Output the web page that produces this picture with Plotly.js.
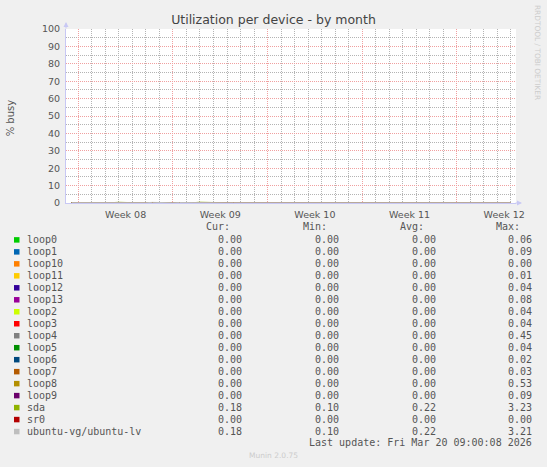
<!DOCTYPE html>
<html>
<head>
<meta charset="utf-8">
<script src="https://cdn.plot.ly/plotly-3.0.1.min.js"></script>
<style>
html,body{margin:0;padding:0;background:#f0f0f0;}
#chart{width:547px;height:467px;}
</style>
</head>
<body>
<div id="chart"></div>
<script>
// ---- data ----
const seriesNames = ["loop0","loop1","loop10","loop11","loop12","loop13","loop2","loop3","loop4","loop5","loop6","loop7","loop8","loop9","sda","sr0","ubuntu-vg/ubuntu-lv"];
const seriesColors = ["#00CC00","#0066B3","#FF8000","#FFCC00","#330099","#990099","#CCFF00","#FF0000","#808080","#008F00","#00487D","#B35A00","#B38F00","#6B006B","#8FB300","#B30000","#BEBEBE"];
const curVals = ["0.00","0.00","0.00","0.00","0.00","0.00","0.00","0.00","0.00","0.00","0.00","0.00","0.00","0.00","0.18","0.00","0.18"];
const minVals = ["0.00","0.00","0.00","0.00","0.00","0.00","0.00","0.00","0.00","0.00","0.00","0.00","0.00","0.00","0.10","0.00","0.10"];
const avgVals = ["0.00","0.00","0.00","0.00","0.00","0.00","0.00","0.00","0.00","0.00","0.00","0.00","0.00","0.00","0.22","0.00","0.22"];
const maxVals = ["0.06","0.09","0.00","0.01","0.04","0.08","0.04","0.04","0.45","0.04","0.02","0.03","0.53","0.09","3.23","0.00","3.21"];
const columnHeaders = ["Cur:","Min:","Avg:","Max:"];

const weekStarts = ["2026-02-16","2026-02-23","2026-03-02","2026-03-09","2026-03-16"];
const weekMids = ["2026-02-19 12:00","2026-02-26 12:00","2026-03-05 12:00","2026-03-12 12:00","2026-03-19 12:00"];
const weekLabels = ["Week 08","Week 09","Week 10","Week 11","Week 12"];
const xRange = ["2026-02-15 02:10","2026-03-20 09:00"];
const sampleStart = "2026-02-15 12:00";   // 12-hour samples

// values per 12-hour sample (% busy)
const loop0  = [0,0,0,0.01,0,0,0,0,0,0,0.01,0,0,0,0,0,0,0,0,0,0.01,0,0,0,0,0,0,0,0,0,0,0,0,0,0,0.01,0,0,0,0,0,0,0,0,0,0,0,0,0,0,0.01,0,0,0,0,0,0,0,0,0,0,0,0,0,0,0];
const loop1  = [0,0,0,0,0,0.01,0,0,0,0,0,0,0,0,0,0.01,0,0,0,0,0,0,0,0,0,0,0,0,0,0.01,0,0,0,0,0,0,0,0,0,0,0,0,0,0.01,0,0,0,0,0,0,0,0,0,0,0,0,0.01,0,0,0,0,0,0,0,0,0];
const loop10 = [0,0,0,0,0,0,0,0,0,0,0,0,0,0,0,0,0,0,0,0,0,0,0,0,0,0,0,0,0,0,0,0,0,0,0,0,0,0,0,0,0,0,0,0,0,0,0,0,0,0,0,0,0,0,0,0,0,0,0,0,0,0,0,0,0,0];
const loop11 = [0,0,0,0,0,0,0,0,0,0,0,0,0,0,0,0,0,0,0,0,0,0,0,0,0,0,0,0,0,0,0,0,0,0,0,0,0,0,0,0,0,0,0,0,0,0,0,0,0,0,0,0,0,0,0,0,0,0,0,0,0,0,0,0,0,0];
const loop12 = [0,0,0,0,0,0,0,0.01,0,0,0,0,0,0,0,0,0,0,0,0,0,0,0,0,0,0,0.01,0,0,0,0,0,0,0,0,0,0,0,0,0,0,0,0,0,0,0,0,0,0,0,0,0,0,0,0,0,0,0,0,0,0,0,0,0,0,0];
const loop13 = [0,0,0,0,0,0,0,0,0,0,0,0,0.01,0,0,0,0,0,0,0,0,0,0,0,0,0,0,0,0,0,0,0,0,0,0,0,0,0,0,0.01,0,0,0,0,0,0,0,0,0,0,0,0,0,0,0,0,0,0,0,0,0,0,0,0,0,0];
const loop2  = [0,0,0,0,0,0,0,0,0,0,0,0,0,0,0,0,0,0,0,0,0,0,0,0,0,0,0,0,0,0,0,0,0.01,0,0,0,0,0,0,0,0,0,0,0,0,0,0,0,0,0,0,0,0,0,0,0,0,0,0,0,0,0,0,0,0,0];
const loop3  = [0,0,0,0,0,0,0,0,0,0,0,0,0,0,0,0,0,0,0,0,0,0,0,0,0,0,0,0,0,0,0,0,0,0,0,0,0,0,0,0,0,0,0,0,0,0,0,0,0.01,0,0,0,0,0,0,0,0,0,0,0,0,0,0,0,0,0];
const loop4  = [0,0,0.01,0,0,0,0,0,0,0,0,0,0,0,0,0,0,0,0.02,0,0,0,0,0,0,0,0,0,0,0,0,0,0,0,0,0,0,0,0,0,0,0,0,0,0,0,0.01,0,0,0,0,0,0,0,0,0,0,0,0,0,0,0,0,0,0,0];
const loop5  = [0,0,0,0,0,0,0,0,0,0,0,0,0,0,0,0,0,0,0,0,0,0,0,0,0,0,0,0,0,0,0,0,0,0,0,0,0,0,0,0,0,0,0,0,0,0,0,0,0,0,0,0,0,0,0,0,0,0,0,0,0,0,0,0,0,0];
const loop6  = [0,0,0,0,0,0,0,0,0,0,0,0,0,0,0,0,0,0,0,0,0,0,0,0,0,0,0,0,0,0,0,0,0,0,0,0,0,0,0,0,0,0,0,0,0,0,0,0,0,0,0,0,0,0,0,0,0,0,0,0,0,0,0,0,0,0];
const loop7  = [0,0,0,0,0,0,0,0,0,0,0,0,0,0,0,0,0,0,0,0,0,0,0,0,0,0,0,0,0,0,0,0,0,0,0,0,0,0,0,0,0,0,0,0,0,0,0,0,0,0,0,0,0,0,0,0,0,0,0,0,0,0,0,0,0,0];
const loop8  = [0,0,0,0,0,0,0,0,0,0,0.02,0,0,0,0,0,0,0,0,0,0,0,0,0,0,0,0,0,0,0,0,0,0,0,0,0,0,0,0,0,0,0,0,0,0,0,0,0,0,0,0,0,0.01,0,0,0,0,0,0,0,0,0,0,0,0,0];
const loop9  = [0,0,0,0,0,0,0,0,0,0,0,0,0,0,0,0,0,0,0,0,0,0,0,0.01,0,0,0,0,0,0,0,0,0,0,0,0,0,0,0,0,0,0,0,0,0,0,0,0,0,0,0,0,0,0,0,0,0,0,0,0,0,0,0,0,0,0];
const sda    = [0.21,0.18,0.25,0.19,0.32,0.17,0.22,0.41,0.18,0.20,0.23,0.19,0.35,0.18,0.21,0.17,0.27,0.20,0.19,0.44,0.22,0.18,0.20,0.16,0.17,0.18,0.19,0.17,0.29,0.18,0.24,0.19,0.21,0.17,0.33,0.18,0.20,0.19,0.22,0.18,0.26,0.19,0.38,0.21,0.46,0.23,0.30,0.20,0.19,0.18,0.21,0.17,0.24,0.19,0.20,0.18,0.28,0.19,0.22,0.18,0.20,0.17,0.19,0.18,0.21,0.18];
const sr0    = [0,0,0,0,0,0,0,0,0,0,0,0,0,0,0,0,0,0,0,0,0,0,0,0,0,0,0,0,0,0,0,0,0,0,0,0,0,0,0,0,0,0,0,0,0,0,0,0,0,0,0,0,0,0,0,0,0,0,0,0,0,0,0,0,0,0];
const ubuntuLv = [0.21,0.18,0.25,0.19,0.31,0.17,0.22,0.40,0.18,0.20,0.23,0.19,0.35,0.18,0.21,0.17,0.27,0.20,0.19,0.43,0.22,0.18,0.20,0.16,0.17,0.18,0.19,0.17,0.29,0.18,0.24,0.19,0.21,0.17,0.33,0.18,0.20,0.19,0.22,0.18,0.26,0.19,0.38,0.21,0.45,0.23,0.30,0.20,0.19,0.18,0.21,0.17,0.24,0.19,0.20,0.18,0.28,0.19,0.22,0.18,0.20,0.17,0.19,0.18,0.21,0.18];
const seriesValues = [loop0,loop1,loop10,loop11,loop12,loop13,loop2,loop3,loop4,loop5,loop6,loop7,loop8,loop9,sda,sr0,ubuntuLv];

// ---- build ----
function sampleTimes(n){
  const t0 = new Date(sampleStart.replace(" ","T")+"Z").getTime();
  const out = [];
  for(let i=0;i<n;i++){ out.push(new Date(t0 + i*12*3600*1000).toISOString().slice(0,19).replace("T"," ")); }
  return out;
}

const traces = seriesNames.map((name,i)=>({
  type:'scatter', mode:'lines', name:name,
  x: sampleTimes(seriesValues[i].length), y: seriesValues[i],
  line:{color:seriesColors[i], width:1}, showlegend:false, hoverinfo:'skip',
  xaxis:'x', yaxis:'y', cliponaxis:true
}));

// geometry (pixels) of the plot area
const W=547, H=467, L=66, R=516, T=29, B=203.3;
const px = x => (x-L)/(R-L);
const py = y => (B-y)/(B-T);

const mono = {family:'"DejaVu Sans Mono", monospace', size:10, color:'#555555'};
const annotations = [];
const shapes = [];

const headerRight = [230.5, 327.5, 424.5, 521];
const valueRight  = [242.5, 339.5, 436.5, 533];
columnHeaders.forEach((h,j)=>annotations.push({xref:'paper',yref:'paper',x:px(headerRight[j]),y:py(227),text:h,showarrow:false,xanchor:'right',yanchor:'middle',font:mono,borderpad:0}));
const cols = [curVals,minVals,avgVals,maxVals];
seriesNames.forEach((name,i)=>{
  const ry = 240 + i*12;
  annotations.push({xref:'paper',yref:'paper',x:px(25.5),y:py(ry),text:name,showarrow:false,xanchor:'left',yanchor:'middle',font:mono,borderpad:0});
  cols.forEach((c,j)=>annotations.push({xref:'paper',yref:'paper',x:px(valueRight[j]),y:py(ry),text:c[i],showarrow:false,xanchor:'right',yanchor:'middle',font:mono,borderpad:0}));
  shapes.push({type:'rect',xref:'paper',yref:'paper',x0:px(14),x1:px(19.5),y0:py(ry+3),y1:py(ry-2.5),fillcolor:seriesColors[i],line:{width:0},layer:'above'});
});
annotations.push({xref:'paper',yref:'paper',x:px(533),y:py(443),text:'Last update: Fri Mar 20 09:00:08 2026',showarrow:false,xanchor:'right',yanchor:'middle',font:mono,borderpad:0});
annotations.push({xref:'paper',yref:'paper',x:px(273),y:py(456),text:'Munin 2.0.75',showarrow:false,xanchor:'center',yanchor:'middle',font:{family:'"DejaVu Sans", sans-serif',size:7.5,color:'#cccccc'}});
annotations.push({xref:'paper',yref:'paper',x:px(537),y:py(52),text:'RRDTOOL / TOBI OETIKER',textangle:90,showarrow:false,xanchor:'center',yanchor:'middle',font:{family:'"DejaVu Sans", sans-serif',size:7.4,color:'#cccccc'}});
annotations.push({xref:'paper',yref:'paper',x:px(10.5),y:py(118),text:'% busy',textangle:-90,showarrow:false,xanchor:'center',yanchor:'middle',font:{family:'"DejaVu Sans", sans-serif',size:10,color:'#555555'}});
// axis arrows
annotations.push({xref:'paper',yref:'paper',x:px(66),y:py(22),ax:0,ay:8,text:'',showarrow:true,arrowhead:2,arrowsize:1,arrowwidth:1,arrowcolor:'#c8c8f4'});
annotations.push({xref:'paper',yref:'paper',x:px(522),y:py(203.3),ax:-8,ay:0,text:'',showarrow:true,arrowhead:2,arrowsize:1,arrowwidth:1,arrowcolor:'#c8c8f4'});

const tickFont = {family:'"DejaVu Sans", sans-serif', size:9.5, color:'#555555'};
const majorGrid = '#f0a0a0', minorGrid = '#b4b4b4', gridDash = '1px,1px';
const layout = {
  width:W, height:H,
  paper_bgcolor:'#f0f0f0', plot_bgcolor:'#ffffff',
  margin:{l:L, r:W-R, t:T, b:H-B, pad:0},
  showlegend:false,
  title:{text:'Utilization per device - by month', x:0.5, xref:'container', xanchor:'center', y:1-19.5/H, yref:'container', yanchor:'middle',
         font:{family:'"DejaVu Sans", sans-serif', size:12.5, color:'#444444'}},
  xaxis:{type:'date', range:xRange, tickmode:'array', tickvals:weekStarts, ticktext:weekStarts.map(()=>''),
         showgrid:true, gridcolor:majorGrid, griddash:gridDash, gridwidth:1,
         minor:{tickmode:'linear', tick0:weekStarts[0], dtick:86400000, showgrid:true, gridcolor:minorGrid, griddash:gridDash, gridwidth:1, ticks:''},
         showline:true, linecolor:'#c8c8f4', linewidth:1, zeroline:false, ticks:'', layer:'above traces', fixedrange:true},
  xaxis2:{type:'date', range:xRange, overlaying:'x', anchor:'y', side:'bottom', tickmode:'array', tickvals:weekMids, ticktext:weekLabels,
          showgrid:false, showline:false, zeroline:false, ticks:'outside', ticklen:3, tickcolor:'rgba(0,0,0,0)', tickfont:tickFont},
  yaxis:{range:[0,100], tickmode:'linear', tick0:0, dtick:10,
         showgrid:true, gridcolor:majorGrid, griddash:gridDash, gridwidth:1,
         minor:{tickmode:'linear', tick0:0, dtick:5, showgrid:true, gridcolor:minorGrid, griddash:gridDash, gridwidth:1, ticks:''},
         showline:true, linecolor:'#c8c8f4', linewidth:1, zeroline:false, ticks:'outside', ticklen:3, tickcolor:'rgba(0,0,0,0)',
         tickfont:tickFont, layer:'above traces', fixedrange:true},
  annotations:annotations,
  shapes:shapes
};

traces.push({type:'scatter', mode:'lines', x:xRange, y:[null,null], xaxis:'x2', yaxis:'y', showlegend:false, hoverinfo:'skip'});

Plotly.newPlot('chart', traces, layout, {staticPlot:true, displayModeBar:false});
</script>
</body>
</html>
